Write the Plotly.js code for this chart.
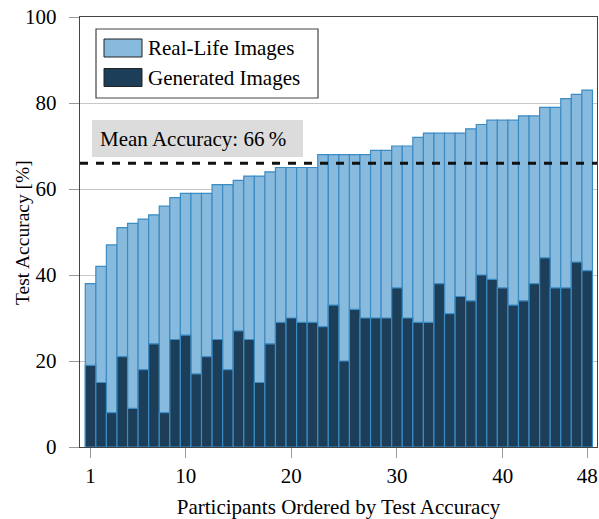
<!DOCTYPE html>
<html>
<head>
<meta charset="utf-8">
<script src="https://cdn.plot.ly/plotly-3.0.1.min.js"></script>
<style>html,body{margin:0;padding:0;background:#fff;}#chart{width:599px;height:519px;}</style>
</head>
<body>
<div id="chart"></div>
<script>
const participants = [1,2,3,4,5,6,7,8,9,10,11,12,13,14,15,16,17,18,19,20,21,22,23,24,25,26,27,28,29,30,31,32,33,34,35,36,37,38,39,40,41,42,43,44,45,46,47,48];
const realLifeTotal = [38,42,47,51,52,53,54,56,58,59,59,59,61,61,62,63,63,64,65,65,65,65,68,68,68,68,68,69,69,70,70,72,73,73,73,73,74,75,76,76,76,77,77,79,79,81,82,83];
const generated = [19,15,8,21,9,18,24,8,25,26,17,21,25,18,27,25,15,24,29,30,29,29,28,33,20,32,30,30,30,37,30,29,29,38,31,35,34,40,39,37,33,34,38,44,37,37,43,41];
const xTickVals = [1,10,20,30,40,48];
const seriesNames = ["Real-Life Images","Generated Images"];

const meanAcc = Math.round(realLifeTotal.reduce((a,b)=>a+b,0)/realLifeTotal.length);

const FONT = "Liberation Serif, Times New Roman, serif";
const lightC = "#88badd", darkC = "#1c3e58", edgeC = "#3b8bc4";

const traces = [
  {type:"bar", x:participants, y:realLifeTotal, name:seriesNames[0], width:1,
   marker:{color:lightC, line:{color:edgeC, width:1.2}}, showlegend:false, hoverinfo:"x+y"},
  {type:"bar", x:participants, y:generated, name:seriesNames[1], width:1,
   marker:{color:darkC, line:{color:edgeC, width:1.2}}, showlegend:false, hoverinfo:"x+y"}
];

// plot area in pixels: x 80..597, y 17..447
const L=80, R=597, T=17, B=447;
const px = v => (v-L)/(R-L);
const py = v => (B-v)/(B-T);

const layout = {
  width:599, height:519,
  margin:{l:L, r:599-R, t:T, b:519-B},
  paper_bgcolor:"#fff", plot_bgcolor:"#fff",
  barmode:"overlay", bargap:0,
  font:{family:FONT, size:21, color:"#000"},
  xaxis:{range:[0,48.93], tickvals:xTickVals, ticktext:xTickVals.map(String),
    ticks:"outside", ticklen:10, tickcolor:"#999", tickwidth:1,
    showline:true, mirror:true, linecolor:"#444", linewidth:1.2,
    showgrid:false, zeroline:false, tickfont:{size:21, family:FONT},
    ticklabelstandoff:0, automargin:false,
    title:{text:"Participants Ordered by Test Accuracy", font:{size:21, family:FONT}, standoff:14}},
  yaxis:{range:[0,100], dtick:20, ticks:"outside", ticklen:10, tickcolor:"#999", tickwidth:1,
    showline:true, mirror:true, linecolor:"#444", linewidth:1.2,
    showgrid:true, gridcolor:"#c8c8c8", gridwidth:1, zeroline:false,
    tickfont:{size:21, family:FONT}, ticklabelstandoff:8, automargin:false},
  shapes:[
    {type:"line", xref:"paper", yref:"y", x0:0, x1:1, y0:meanAcc, y1:meanAcc,
     line:{color:"#111", width:3, dash:"8px,8px"}},
    {type:"rect", xref:"paper", yref:"paper", x0:px(92), x1:px(303), y0:py(157), y1:py(120),
     fillcolor:"#dcdcdc", line:{width:0}},
    {type:"rect", xref:"paper", yref:"paper", x0:px(96), x1:px(318), y0:py(98), y1:py(29),
     fillcolor:"#fff", line:{color:"#444", width:1.2}},
    {type:"rect", xref:"paper", yref:"paper", x0:px(104), x1:px(142), y0:py(57), y1:py(39),
     fillcolor:lightC, line:{color:"#222", width:1}},
    {type:"rect", xref:"paper", yref:"paper", x0:px(104), x1:px(142), y0:py(86.5), y1:py(68.5),
     fillcolor:darkC, line:{color:"#222", width:1}}
  ],
  annotations:[
    {xref:"paper", yref:"paper", x:px(146), y:py(48), xanchor:"left", yanchor:"middle",
     text:seriesNames[0], showarrow:false, font:{size:21, family:FONT}},
    {xref:"paper", yref:"paper", x:px(146), y:py(77.5), xanchor:"left", yanchor:"middle",
     text:seriesNames[1], showarrow:false, font:{size:21, family:FONT}},
    {xref:"paper", yref:"paper", x:px(98), y:py(138.5), xanchor:"left", yanchor:"middle",
     text:"Mean Accuracy: " + meanAcc + "\u2009%", showarrow:false, font:{size:21, family:FONT}},
    {xref:"paper", yref:"paper", x:px(22), y:py(233), xanchor:"center", yanchor:"middle",
     textangle:-90, text:"Test Accuracy [%]", showarrow:false, font:{size:19.5, family:FONT}}
  ]
};

Plotly.newPlot("chart", traces, layout, {displayModeBar:false, staticPlot:true});
</script>
</body>
</html>
